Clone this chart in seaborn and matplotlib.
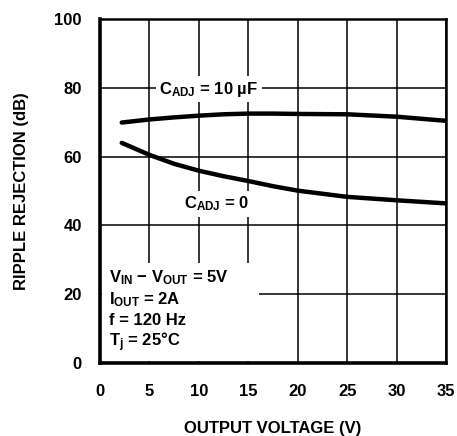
import numpy as np
import pandas as pd
import matplotlib
matplotlib.use("Agg")
import matplotlib.pyplot as plt
import seaborn as sns

# values
vout = [2.2, 5, 7.5, 10, 12.5, 15, 17.5, 20, 25, 30, 35]
rr_cadj10 = [69.9, 70.8, 71.4, 71.9, 72.3, 72.5, 72.5, 72.4, 72.3, 71.6, 70.4]
rr_cadj0 = [64.0, 60.5, 57.9, 55.9, 54.3, 52.9, 51.4, 50.1, 48.3, 47.3, 46.4]
xticks = [0, 5, 10, 15, 20, 25, 30, 35]
yticks = [0, 20, 40, 60, 80, 100]

sns.set_style("white")
plt.rcParams["font.family"] = ["Liberation Sans", "DejaVu Sans"]
plt.rcParams["font.weight"] = "bold"
plt.rcParams["text.color"] = "black"
plt.rcParams["axes.labelcolor"] = "black"
plt.rcParams["xtick.color"] = "black"
plt.rcParams["ytick.color"] = "black"
plt.rcParams["mathtext.fontset"] = "custom"
plt.rcParams["mathtext.rm"] = "Liberation Sans:bold"
plt.rcParams["mathtext.it"] = "Liberation Sans:bold"
plt.rcParams["mathtext.bf"] = "Liberation Sans:bold"

df = pd.DataFrame({
    "vout": vout * 2,
    "rr": rr_cadj10 + rr_cadj0,
    "curve": ["10uF"] * len(vout) + ["0"] * len(vout),
})

fig = plt.figure(figsize=(4.57, 4.36), dpi=100)
ax = fig.add_axes([100 / 457, 1 - 363 / 436, 346 / 457, 344 / 436])

sns.lineplot(data=df, x="vout", y="rr", units="curve", estimator=None,
             color="black", linewidth=3.2, ax=ax, legend=False, zorder=3)

ax.set_xlim(0, 35)
ax.set_ylim(0, 100)
ax.set_xticks(xticks)
ax.set_yticks(yticks)
ax.set_axisbelow(True)
ax.xaxis.grid(True, which="major", color="black", linewidth=1.1)
ax.yaxis.grid(True, which="major", color="black", linewidth=1.1)
ax.tick_params(axis="x", length=0, labelsize=12, pad=15)
ax.tick_params(axis="y", length=0, labelsize=12, pad=13)
for lab in ax.get_xticklabels() + ax.get_yticklabels():
    lab.set_fontweight("bold")
for s in ["left", "bottom"]:
    ax.spines[s].set_linewidth(2.6)
for s in ["top", "right"]:
    ax.spines[s].set_linewidth(1.8)
for s in ax.spines.values():
    s.set_color("black")
    s.set_zorder(6)

ax.set_xlabel("OUTPUT VOLTAGE (V)", fontsize=12, fontweight="bold", labelpad=16)
ax.set_ylabel("RIPPLE REJECTION (dB)", fontsize=12, fontweight="bold", labelpad=18)

box = dict(facecolor="white", edgecolor="none", pad=2.5)
ax.text(6.0, 79.6, r"C$_{\rm ADJ}$ = 10 µF", fontsize=12, fontweight="bold",
        ha="left", va="center", bbox=box, zorder=5)
ax.text(8.5, 46.3, r"C$_{\rm ADJ}$ = 0", fontsize=12, fontweight="bold",
        ha="left", va="center", bbox=box, zorder=5)

ax.add_patch(plt.Rectangle((0.2, 0.5), 15.9, 28.7, facecolor="white",
                           edgecolor="none", zorder=4))
cond = [r"V$_{\rm IN}$ $-$ V$_{\rm OUT}$ = 5V",
        r"I$_{\rm OUT}$ = 2A",
        "f = 120 Hz",
        r"T$_{\rm j}$ = 25°C"]
for i, t in enumerate(cond):
    ax.text(0.9, 24.7 - i * 6.2, t, fontsize=12, fontweight="bold",
            ha="left", va="center", zorder=5)

fig.savefig("out.png", dpi=100)
